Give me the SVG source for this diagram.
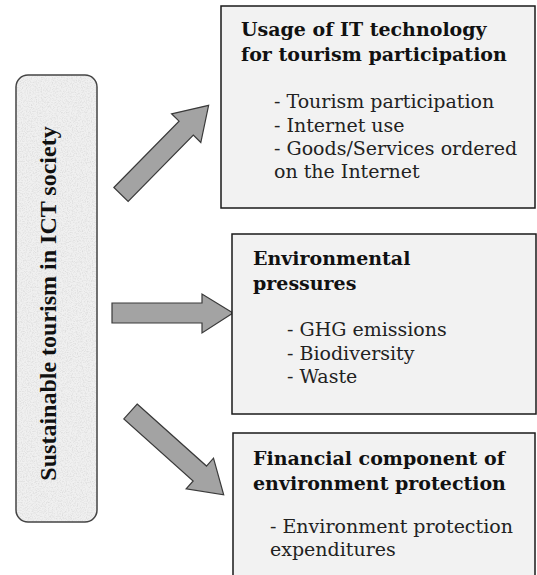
<svg xmlns="http://www.w3.org/2000/svg" width="537" height="575" viewBox="0 0 537 575">
<style>
.box{fill:#f2f2f2;stroke:#1a1a1a;stroke-width:1.5}
.arrow{fill:#a3a3a3;stroke:#3a3a3a;stroke-width:1.2;stroke-linejoin:miter}
.title{font-family:"DejaVu Serif","Liberation Serif",serif;font-weight:bold;font-size:19px;fill:#111}
.body{font-family:"DejaVu Serif","Liberation Serif",serif;font-size:19px;fill:#222}
.side{font-family:"Liberation Serif","Times New Roman",serif;font-weight:bold;font-size:24px;fill:#111}
</style>
<defs>
<filter id="tex" x="0" y="0" width="100%" height="100%">
<feTurbulence type="fractalNoise" baseFrequency="0.8" numOctaves="3" seed="5" result="n"/>
<feColorMatrix in="n" type="matrix" values="0 0 0 0 0.62  0 0 0 0 0.62  0 0 0 0 0.62  -1.8 0 0 0 1.05" result="g"/>
<feComposite in="g" in2="SourceGraphic" operator="in"/>
</filter>
<path id="arr" d="M0,-10 L93,-10 L93,-20.5 L125,0 L93,20.5 L93,10 L0,10 Z"/>
</defs>
<rect width="537" height="575" fill="#ffffff"/>
<g id="node-main">
<rect x="16" y="75" width="81" height="447" rx="12" fill="#f0f0f0"/>
<rect x="16" y="75" width="81" height="447" rx="12" fill="#ffffff" filter="url(#tex)" opacity="0.7"/>
<rect x="16" y="75" width="81" height="447" rx="12" fill="none" stroke="#444" stroke-width="1.5"/>
<text class="side" text-anchor="middle" transform="translate(56,303.5) rotate(-90)">Sustainable tourism in ICT society</text>
</g>
<g id="connectors">
<use href="#arr" class="arrow" transform="translate(121,194.5) rotate(-45.5)"/>
<path class="arrow" d="M112,303 L202,303 L202,294 L233,313 L202,333 L202,323 L112,323 Z"/>
<use href="#arr" class="arrow" transform="translate(130.5,411.5) rotate(41.8)"/>
</g>
<g id="node-it">
<rect class="box" x="221" y="6" width="314" height="202"/>
<text class="title" x="241" y="36">Usage of IT technology</text>
<text class="title" x="241" y="61">for tourism participation</text>
<text class="body" x="274" y="108">- Tourism participation</text>
<text class="body" x="274" y="132">- Internet use</text>
<text class="body" x="274" y="155">- Goods/Services ordered</text>
<text class="body" x="274" y="178">on the Internet</text>
</g>
<g id="node-env">
<rect class="box" x="232" y="234" width="304" height="180"/>
<text class="title" x="253" y="265">Environmental</text>
<text class="title" x="253" y="290">pressures</text>
<text class="body" x="287" y="336">- GHG emissions</text>
<text class="body" x="287" y="360">- Biodiversity</text>
<text class="body" x="287" y="383">- Waste</text>
</g>
<g id="node-fin">
<rect class="box" x="233" y="433" width="302" height="150"/>
<text class="title" x="253" y="465">Financial component of</text>
<text class="title" x="253" y="490">environment protection</text>
<text class="body" x="270" y="533">- Environment protection</text>
<text class="body" x="270" y="556">expenditures</text>
</g>
</svg>
